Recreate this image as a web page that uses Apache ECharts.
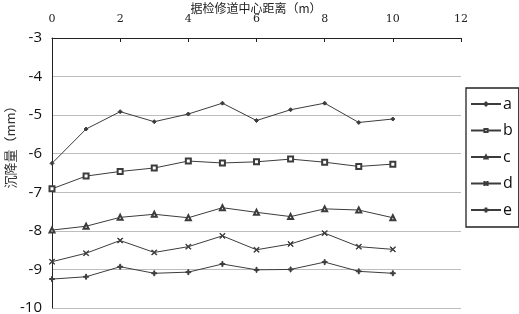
<!DOCTYPE html>
<html><head><meta charset="utf-8">
<script src="https://cdn.jsdelivr.net/npm/echarts@6/dist/echarts.min.js"></script>
<style>html,body{margin:0;padding:0;background:#fff}#c{width:519px;height:314px}</style>
</head><body><div id="c"></div>
<script>
const distances = [0,1,2,3,4,5,6,7,8,9,10];
const seriesNames = ['a','b','c','d','e'];
const aVals = [-6.25,-5.36,-4.91,-5.17,-4.97,-4.69,-5.14,-4.86,-4.69,-5.19,-5.10];
const bVals = [-6.91,-6.58,-6.46,-6.37,-6.19,-6.24,-6.21,-6.14,-6.22,-6.33,-6.27];
const cVals = [-7.98,-7.88,-7.65,-7.57,-7.66,-7.40,-7.52,-7.63,-7.43,-7.46,-7.66];
const dVals = [-8.80,-8.58,-8.25,-8.56,-8.41,-8.13,-8.49,-8.34,-8.06,-8.41,-8.48];
const eVals = [-9.25,-9.19,-8.93,-9.10,-9.07,-8.86,-9.01,-9.00,-8.81,-9.05,-9.10];
const xTitle = '据检修道中心距离（m）';
const yTitle = '沉降量（mm）';

const allVals = [aVals,bVals,cVals,dVals,eVals];
const symbols = [
  'diamond',
  'emptyRect',
  'emptyTriangle',
  'path://M0,0 L1,0 L5,4 L9,0 L10,0 L10,1 L6,5 L10,9 L10,10 L9,10 L5,6 L1,10 L0,10 L0,9 L4,5 L0,1 Z',
  'path://M4,0 L6,0 L6,4 L10,4 L10,6 L6,6 L6,10 L4,10 L4,6 L0,6 L0,4 L4,4 Z'
];
const sizes = [4,5,5,5,5];
const lineColor = '#3c3c3c';

const series = seriesNames.map((n,i)=>({
  name:n, type:'line',
  data: distances.map((x,j)=>[x, allVals[i][j]]),
  symbol: symbols[i], symbolSize: sizes[i], showSymbol:true,
  lineStyle:{color:lineColor,width:1},
  itemStyle:{color:lineColor,borderColor:lineColor,borderWidth:(i===1||i===2)?0.8:1},
  emphasis:{disabled:true},
  animation:false
}));

const chart = echarts.init(document.getElementById('c'),null,{renderer:'canvas'});
chart.setOption({
  animation:false,
  grid:{left:52,right:58,top:38,bottom:6,containLabel:false,outerBoundsMode:'none'},
  xAxis:{
    type:'value', position:'top', min:0, max:12, interval:2,
    axisLine:{onZero:false,lineStyle:{color:'#222',width:1}},
    axisTick:{show:true,inside:true,length:4,lineStyle:{color:'#222'}},
    axisLabel:{fontFamily:'"DejaVu Serif","Liberation Serif",serif',fontSize:11,color:'#222',margin:13},
    splitLine:{show:false}
  },
  yAxis:{
    type:'value', min:-10, max:-3, interval:1,
    axisLine:{show:true,lineStyle:{color:'#222',width:1}},
    axisTick:{show:false},
    axisLabel:{fontFamily:'"Open Sans","Noto Sans",sans-serif',fontSize:15,color:'#111',margin:10},
    splitLine:{show:true,lineStyle:{color:'#bdbdbd',width:1}}
  },
  legend:{
    orient:'vertical', left:466, top:88,
    data:seriesNames,
    itemWidth:30, itemHeight:4, itemGap:10.5,
    padding:[8,6,9,4],
    borderColor:'#222', borderWidth:1.3,
    textStyle:{fontFamily:'"Open Sans","Noto Sans",sans-serif',fontSize:16,lineHeight:16,color:'#111',padding:[0,0,0,-3]}
  },
  graphic:[{
    type:'text', x:256, y:8,
    style:{text:xTitle, fontFamily:'"Noto Sans CJK SC"', fontSize:12, fill:'#222', align:'center', verticalAlign:'middle'}
  },{
    type:'text', x:10, y:144,
    style:{text:yTitle, fontFamily:'"Noto Sans CJK SC"', fontSize:13, fill:'#333', align:'center', verticalAlign:'middle'},
    rotation:Math.PI/2
  }],
  series:series
});
</script></body></html>
